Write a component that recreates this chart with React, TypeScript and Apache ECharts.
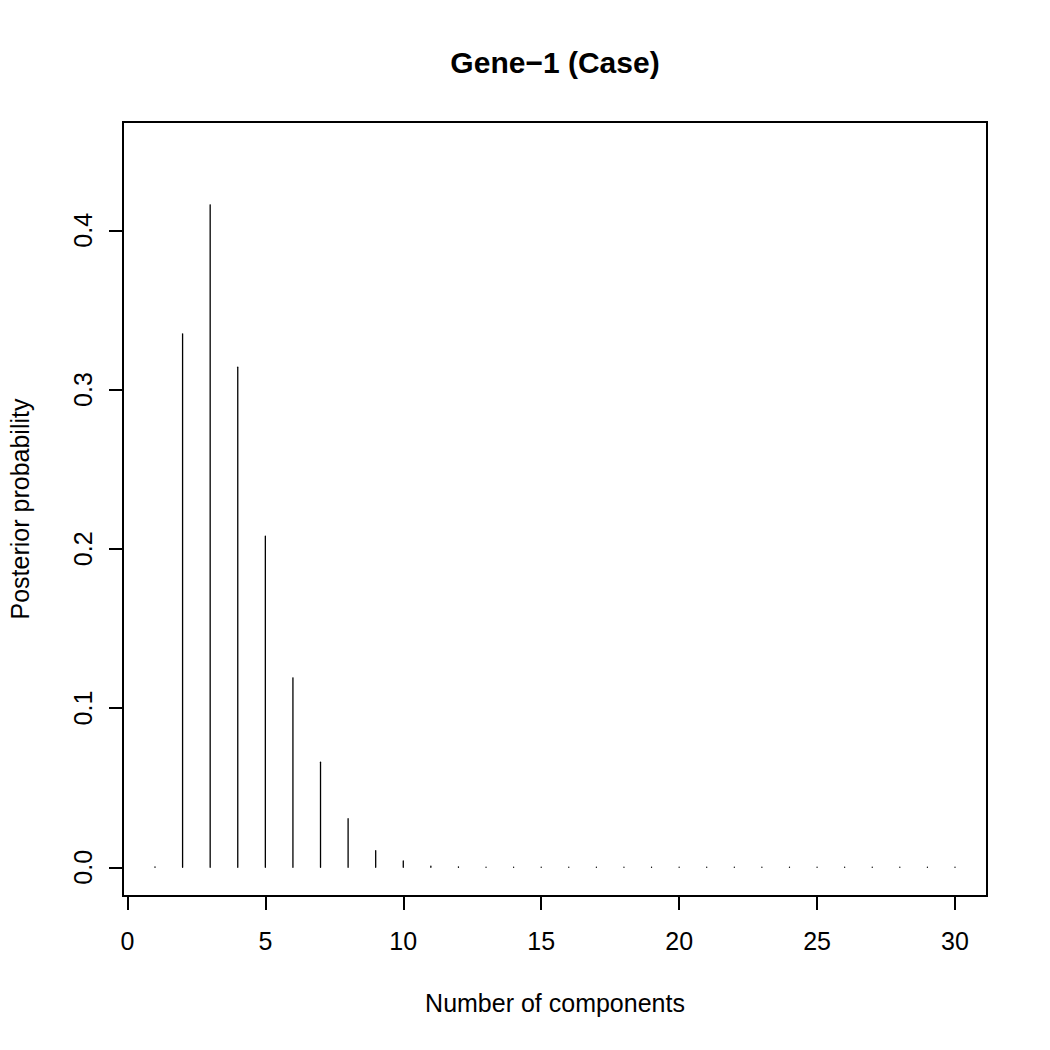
import React, { useEffect, useRef } from "react";
import * as echarts from "echarts";

const components = [1, 2, 3, 4, 5, 6, 7, 8, 9, 10, 11, 12, 13, 14, 15, 16, 17, 18, 19, 20, 21, 22, 23, 24, 25, 26, 27, 28, 29, 30];
const posterior = [0.0002, 0.335, 0.416, 0.314, 0.208, 0.119, 0.066, 0.0305, 0.0104, 0.004, 0.0008, 0.0003, 0.0001, 0.0001, 0.0001, 0.0001, 0.0001, 0.0001, 0.0001, 0.0001, 0.0001, 0.0001, 0.0001, 0.0001, 0.0001, 0.0001, 0.0001, 0.0001, 0.0001, 0.0001];
const xTicks = [0, 5, 10, 15, 20, 25, 30];
const yTicks = [0, 0.1, 0.2, 0.3, 0.4];
const titleText = "Gene\u22121 (Case)";
const xLabel = "Number of components";
const yLabel = "Posterior probability";

const FONT = "'Liberation Sans', Arial, Helvetica, sans-serif";

export default function App() {
  const ref = useRef<HTMLDivElement>(null);
  useEffect(() => {
    if (!ref.current) return;
    const chart = echarts.init(ref.current, null, { renderer: "svg" });
    const data = components.map((c, i) => [c, posterior[i]]);
    chart.setOption({
      animation: false,
      backgroundColor: "#fff",
      grid: {
        left: 123,
        top: 122,
        width: 864,
        height: 774,
        show: true,
        borderColor: "#000",
        borderWidth: 2,
        backgroundColor: "transparent",
      },
      xAxis: {
        type: "value",
        min: -0.16,
        max: 31.16,
        axisLine: { show: false, onZero: false },
        splitLine: { show: false },
        axisTick: {
          show: true,
          customValues: xTicks,
          length: 14,
          lineStyle: { color: "#000", width: 2 },
        },
        axisLabel: {
          show: true,
          customValues: xTicks,
          margin: 32,
          fontSize: 25,
          fontFamily: FONT,
          color: "#000",
        },
      },
      yAxis: {
        type: "value",
        min: -0.018,
        max: 0.468,
        axisLine: { show: false, onZero: false },
        splitLine: { show: false },
        axisTick: {
          show: true,
          customValues: yTicks,
          length: 14,
          lineStyle: { color: "#000", width: 2 },
        },
        axisLabel: {
          show: true,
          customValues: yTicks,
          rotate: 90,
          margin: 28,
          fontSize: 25,
          fontFamily: FONT,
          color: "#000",
          formatter: (v: number) => v.toFixed(1),
        },
      },
      series: [
        {
          type: "custom",
          data,
          renderItem: (params: any, api: any) => {
            const x = api.value(0);
            const y = api.value(1);
            const p0 = api.coord([x, 0]);
            const p1 = api.coord([x, y]);
            return {
              type: "line",
              shape: { x1: p0[0], y1: p0[1], x2: p1[0], y2: p1[1] },
              style: { stroke: "#000", lineWidth: 1.3, lineCap: "round" },
            };
          },
        },
      ],
      graphic: [
        {
          type: "text",
          x: 555,
          y: 62,
          style: {
            text: titleText,
            font: `bold 30px ${FONT}`,
            fill: "#000",
            align: "center",
            verticalAlign: "middle",
          },
        },
        {
          type: "text",
          x: 555,
          y: 1003,
          style: {
            text: xLabel,
            font: `25px ${FONT}`,
            fill: "#000",
            align: "center",
            verticalAlign: "middle",
          },
        },
        {
          type: "text",
          x: 20,
          y: 509,
          rotation: Math.PI / 2,
          style: {
            text: yLabel,
            font: `25px ${FONT}`,
            fill: "#000",
            align: "center",
            verticalAlign: "middle",
          },
        },
      ],
    });
    return () => chart.dispose();
  }, []);
  return (
    <div
      ref={ref}
      style={{ position: "fixed", left: 0, top: 0, width: 1050, height: 1050, background: "#fff" }}
    />
  );
}
